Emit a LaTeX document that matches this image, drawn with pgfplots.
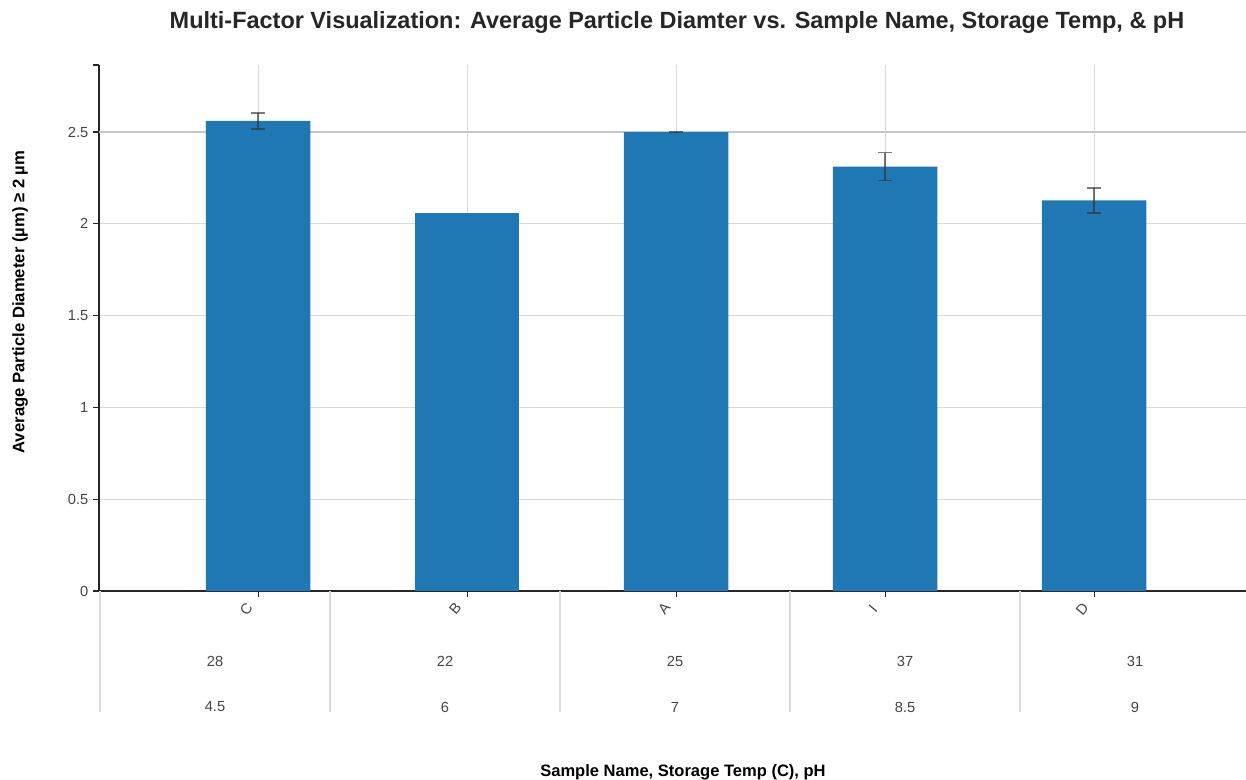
\documentclass[border=0pt]{standalone}
\usepackage{pgfplots}
\pgfplotsset{compat=1.18}
\usepackage{fontspec}
\setmainfont{Liberation Sans}
\definecolor{barblue}{HTML}{1F77B4}
\definecolor{txt}{HTML}{444444}
\definecolor{gridc}{HTML}{D9D9D9}
\begin{document}
\begin{tikzpicture}[x=0.75pt,y=0.75pt]
\path[use as bounding box] (0,0) rectangle (1246,779);
\begin{axis}[
  at={(74.25pt,141pt)}, anchor=south west,
  scale only axis, width=860.25pt, height=394.5pt,
  xmin=-0.761, xmax=4.727, ymin=0, ymax=2.865,
  axis x line*=bottom, axis y line*=left,
  axis line style={-, black!85, line width=0.8pt},
  xtick={0,1,2,3,4}, xticklabels={C,B,A,I,D},
  ytick={0,0.5,1,1.5,2,2.5},
  extra y ticks={2.865}, extra y tick labels={},
  extra y tick style={grid=none},
  /pgf/number format/assume math mode=true,
  tick label style={font=\fontsize{11}{12}\selectfont, text=txt},
  xticklabel style={xshift=-9pt, yshift=-9pt, rotate=50, anchor=center},
  tick align=outside, major tick length=4.5pt,
  tick style={black!85, line width=0.8pt},
  xmajorgrids, ymajorgrids,
  grid style={gridc, line width=0.8pt},
  clip=false,
]
\draw[black!22, line width=1.1pt] (axis cs:-0.761,2.5) -- (axis cs:4.727,2.5);
\addplot[ybar, bar width=0.5, fill=barblue, draw=none,
  error bars/.cd, y dir=both, y explicit,
  error bar style={line width=1.2pt, black!80, opacity=0.65},
  error mark options={rotate=90, line width=1.2pt, black!80, opacity=0.65, mark size=5pt}]
  coordinates {(0,2.560) +- (0,0.044) (2,2.500) +- (0,0.002) (3,2.312) +- (0,0.076) (4,2.127) +- (0,0.068)};
\addplot[ybar, bar width=0.5, fill=barblue, draw=none]
  coordinates {(1,2.059)};
\end{axis}
% hierarchical category rows
\foreach \xx in {100,330,560,790,1020} {
  \draw[gridc, line width=0.8pt] (\xx,188) -- (\xx,67);
}
\foreach \xx/\t/\p in {215/28/4.5, 445/22/6, 675/25/7, 905/37/8.5, 1135/31/9} {
  \node[font=\fontsize{11}{12}\selectfont, text=txt] at (\xx,118) {\t};
  \node[font=\fontsize{11}{12}\selectfont, text=txt] at (\xx,72) {\p};
}
\node[font=\fontsize{17.6}{19}\selectfont\bfseries, text=black!85] at (677,757) {Multi-Factor Visualization: Average Particle Diamter vs. Sample Name, Storage Temp, \& pH};
\node[font=\fontsize{12.5}{14}\selectfont\bfseries, text=black, rotate=90] at (20,477) {Average Particle Diameter (µm) ≥ 2 µm};
\node[font=\fontsize{12.4}{13}\selectfont\bfseries, text=black] at (683,7) {Sample Name, Storage Temp (C), pH};
\end{tikzpicture}
\end{document}
